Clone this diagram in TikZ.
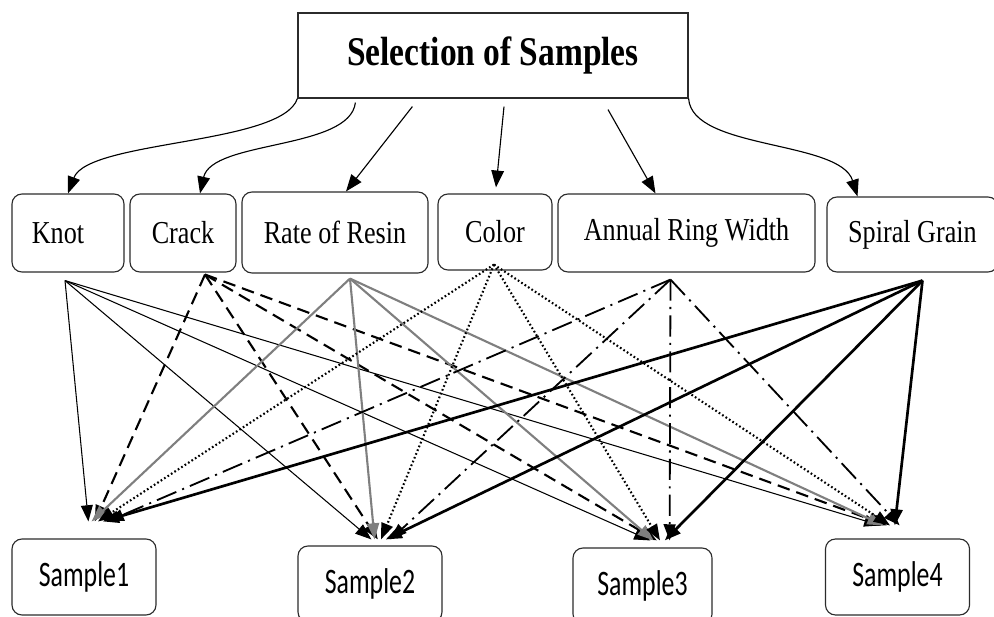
\documentclass[tikz,border=0pt]{standalone}
\usepackage{fontspec}
\usepackage{tikz}
\usetikzlibrary{arrows.meta,calc}
\newfontfamily\labelfont[FakeStretch=0.82]{Liberation Serif}
\newfontfamily\samplefont[FakeStretch=0.72]{Carlito}
\definecolor{ink}{HTML}{000000}
\definecolor{boxline}{HTML}{2B2B2B}
\definecolor{resingray}{HTML}{7F7F7F}

\begin{document}
\begin{tikzpicture}[x=0.025cm,y=-0.025cm,>={Triangle[length=11.5pt,width=8.5pt]},
  headbox/.style={draw=boxline,line width=0.8pt,inner sep=0pt,font=\labelfont\bfseries\fontsize{29}{33}\selectfont},
  attrbox/.style={draw=boxline,line width=0.8pt,rounded corners=0.25cm,inner sep=0pt,font=\labelfont\fontsize{22.7}{26}\selectfont},
  samplebox/.style={draw=boxline,line width=0.8pt,rounded corners=0.25cm,inner sep=0pt,minimum width=3.6cm,minimum height=1.9cm,font=\samplefont\fontsize{25.5}{29}\selectfont},
  toplink/.style={draw=ink,line width=0.8pt,-{Triangle[length=12pt,width=9pt]}},
  knotline/.style={draw=ink,line width=0.75pt},
  crackline/.style={draw=ink,line width=1.5pt,dash pattern=on 9pt off 5pt},
  resinline/.style={draw=resingray,line width=1.5pt},
  colorline/.style={draw=ink,line width=1.5pt,dash pattern=on 1.2pt off 1.7pt},
  ringline/.style={draw=ink,line width=1.3pt,dash pattern=on 15pt off 4.5pt on 1.5pt off 4.5pt},
  spiralline/.style={draw=ink,line width=1.9pt}]
\useasboundingbox (0,0) rectangle (994,617);
% the head box
\node[headbox,minimum width=9.75cm,minimum height=2.125cm] (sel) at (493,55.5) {Selection of Samples};
% the six features
\node[attrbox,minimum width=2.8cm,minimum height=1.95cm] (knot) at (68,233) {Knot\kern0.5cm};
\node[attrbox,minimum width=2.65cm,minimum height=1.95cm] (crack) at (183,233) {Crack};
\node[attrbox,minimum width=4.65cm,minimum height=2.025cm] (resin) at (335,232.5) {Rate of Resin};
\node[attrbox,minimum width=2.85cm,minimum height=1.9cm] (colour) at (495,232) {Color};
\node[attrbox,minimum width=6.425cm,minimum height=1.95cm] (ring) at (686.5,233) {Annual Ring Width};
\node[attrbox,minimum width=4.275cm,minimum height=1.875cm] (spiral) at (912.5,234.5) {Spiral Grain};
% the four samples
\node[samplebox] (s1) at (84,577) {Sample1};
\node[samplebox] (s2) at (370,584) {Sample2};
\node[samplebox,minimum width=3.475cm] (s3) at (642.5,586) {Sample3};
\node[samplebox] (s4) at (897.5,577) {Sample4};
% head box to features
\draw[toplink] (sel.south west) .. controls (282,145) and (88,140) .. (knot.north);
\draw[toplink] ($(sel.south west)+(58,4)$) .. controls (350,150) and (212,140) .. ($(crack.north)+(17,0)$);
\draw[toplink] ($(sel.south west)+(115,8)$) -- ($(resin.north)+(11,0)$);
\draw[toplink] ($(sel.south)+(11,8)$) -- ($(colour.north)+(1,-6)$);
\draw[toplink] ($(sel.south)+(115,11)$) -- ($(ring.north)+(-31,0)$);
\draw[toplink] (sel.south east) .. controls (692,150) and (840,140) .. ($(spiral.north)+(-55,0)$);
% where the links leave and arrive
\coordinate (knot-o) at ($(knot.south)+(-3,8)$);
\coordinate (crack-o) at ($(crack.south)+(22,2)$);
\coordinate (resin-o) at ($(resin.south)+(15,5)$);
\coordinate (colour-o) at ($(colour.south)+(-1,-6)$);
\coordinate (ring-o) at ($(ring.south)+(-16,7)$);
\coordinate (spiral-o) at ($(spiral.south)+(10,8)$);
\coordinate (s1-i) at ($(s1.north)+(14,-17)$);
\coordinate (s2-i) at ($(s2.north)+(11,-6)$);
\coordinate (s3-i) at ($(s3.north)+(17.5,-7)$);
\coordinate (s4-i) at ($(s4.north)+(-7.5,-13)$);
% features to samples
\foreach \src/\sty/\dx in {knot/knotline/-12,crack/crackline/-4,resin/resinline/-8,colour/colorline/0,ring/ringline/12,spiral/spiralline/6}
  \foreach \smp in {s1,s2,s3,s4}
    \draw[\sty,->] (\src-o) -- ($(\smp-i)+(\dx*0.8,0)$);
\end{tikzpicture}
\end{document}
